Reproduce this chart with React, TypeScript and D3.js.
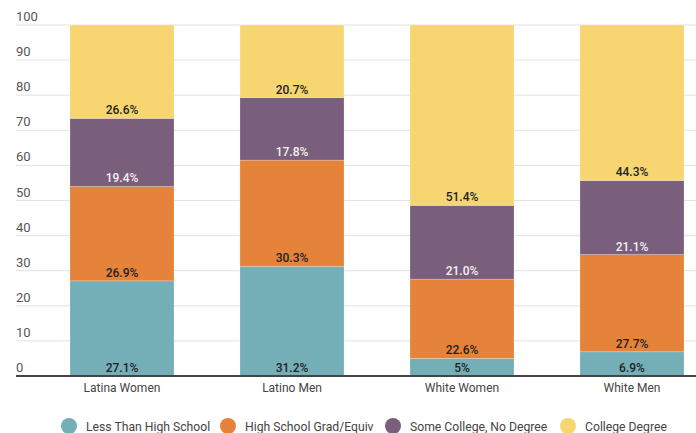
import React, { useEffect, useRef } from "react";
import * as d3 from "d3";

const categories = ["Latina Women", "Latino Men", "White Women", "White Men"];
const seriesNames = [
  "Less Than High School",
  "High School Grad/Equiv",
  "Some College, No Degree",
  "College Degree",
];
const lessThanHS = [27.1, 31.2, 5, 6.9];
const hsGrad = [26.9, 30.3, 22.6, 27.7];
const someCollege = [19.4, 17.8, 21.0, 21.1];
const collegeDegree = [26.6, 20.7, 51.4, 44.3];
const valueLabels = [
  ["27.1%", "31.2%", "5%", "6.9%"],
  ["26.9%", "30.3%", "22.6%", "27.7%"],
  ["19.4%", "17.8%", "21.0%", "21.1%"],
  ["26.6%", "20.7%", "51.4%", "44.3%"],
];
const yTicks = [0, 10, 20, 30, 40, 50, 60, 70, 80, 90, 100];

const colors = ["#74afb8", "#e5833a", "#7a5f7d", "#f7d672"];
const labelColors = ["#222", "#222", "#f2f2f2", "#222"];

export default function App() {
  const ref = useRef<SVGSVGElement>(null);

  useEffect(() => {
    const svg = d3.select(ref.current);
    svg.selectAll("*").remove();

    const font = "Roboto, sans-serif";
    const y = d3.scaleLinear().domain([0, 100]).range([376, 25]);
    const x = d3
      .scaleBand()
      .domain(categories)
      .range([37, 717])
      .paddingInner(0.388)
      .paddingOuter(0.194);

    const rows = categories.map((c, i) => ({
      category: c,
      s0: lessThanHS[i],
      s1: hsGrad[i],
      s2: someCollege[i],
      s3: collegeDegree[i],
    }));
    const stack = d3.stack<any>().keys(["s0", "s1", "s2", "s3"]);
    const stacked = stack(rows);

    // gridlines + tick labels
    const grid = svg.append("g");
    grid
      .selectAll("line")
      .data(yTicks.filter((t) => t > 0))
      .enter()
      .append("line")
      .attr("x1", 16)
      .attr("x2", 696)
      .attr("y1", (d) => y(d))
      .attr("y2", (d) => y(d))
      .attr("stroke", "#e2e2e2")
      .attr("stroke-width", 1);
    grid
      .selectAll("text")
      .data(yTicks)
      .enter()
      .append("text")
      .attr("x", 16)
      .attr("y", (d) => y(d) - 4)
      .attr("font-family", font)
      .attr("font-size", 13)
      .attr("fill", "#555")
      .text((d) => d);

    // bars
    stacked.forEach((layer, si) => {
      svg
        .append("g")
        .selectAll("rect")
        .data(layer)
        .enter()
        .append("rect")
        .attr("x", (d) => x(d.data.category)!)
        .attr("width", x.bandwidth())
        .attr("y", (d) => y(d[1]))
        .attr("height", (d) => y(d[0]) - y(d[1]))
        .attr("fill", colors[si])
        .attr("stroke", "#fff")
        .attr("stroke-opacity", 0.35)
        .attr("stroke-width", 0.6);
    });

    // value labels
    stacked.forEach((layer, si) => {
      svg
        .append("g")
        .selectAll("text")
        .data(layer)
        .enter()
        .append("text")
        .attr("x", (d) => x(d.data.category)! + x.bandwidth() / 2)
        .attr("y", (d) => y(d[0]) - 4)
        .attr("text-anchor", "middle")
        .attr("font-family", font)
        .attr("font-size", 12)
        .attr("font-weight", 500)
        .attr("fill", labelColors[si])
        .text((d, i) => valueLabels[si][i]);
    });

    // baseline
    svg
      .append("line")
      .attr("x1", 16)
      .attr("x2", 696)
      .attr("y1", y(0))
      .attr("y2", y(0))
      .attr("stroke", "#444")
      .attr("stroke-width", 2);

    // category labels
    svg
      .append("g")
      .selectAll("text")
      .data(categories)
      .enter()
      .append("text")
      .attr("x", (d) => x(d)! + x.bandwidth() / 2)
      .attr("y", 392)
      .attr("text-anchor", "middle")
      .attr("font-family", font)
      .attr("font-size", 12)
      .attr("fill", "#444")
      .text((d) => d);

    // legend
    const legendX = [69, 228, 393, 568];
    const legend = svg.append("g");
    seriesNames.forEach((name, i) => {
      legend
        .append("circle")
        .attr("cx", legendX[i])
        .attr("cy", 426)
        .attr("r", 8)
        .attr("fill", colors[i]);
      legend
        .append("text")
        .attr("x", legendX[i] + 17)
        .attr("y", 431)
        .attr("font-family", font)
        .attr("font-size", 12.2)
        .attr("fill", "#444")
        .text(name);
    });
  }, []);

  return (
    <svg
      ref={ref}
      width={696}
      height={433}
      style={{ position: "absolute", left: 0, top: 0, background: "#fff" }}
    />
  );
}
